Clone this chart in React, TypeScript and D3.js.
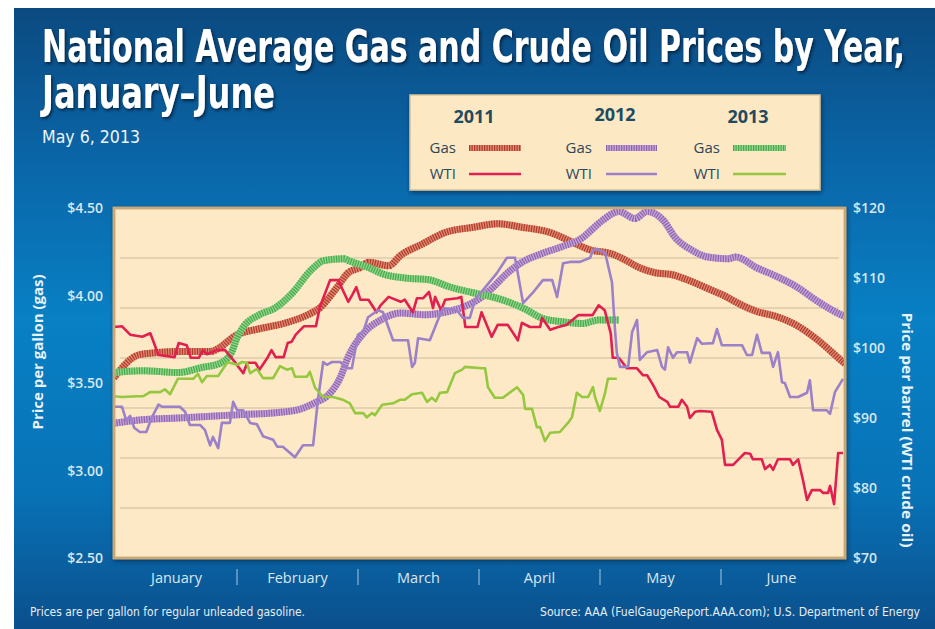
import React from 'react';
import * as d3 from 'd3';

const W = 935;
const H = 629;

const months = ['January', 'February', 'March', 'April', 'May', 'June'];
const gasTicks = [2.5, 3.0, 3.5, 4.0, 4.5];
const oilTicks = [70, 80, 90, 100, 110, 120];
const gridBands = 7;
const dayDomain: [number, number] = [0, 181];

// [day of Jan–Jun, $ per gallon]
const gas2011: [number, number][] = [
  [0, 3.53], [6, 3.66], [9, 3.67], [16, 3.68], [24, 3.68], [26, 3.7], [30, 3.77], [36, 3.81], [42, 3.84],
  [48, 3.89], [51, 3.93], [55, 4.04], [58, 4.13], [61, 4.16], [63, 4.19], [68, 4.17], [71, 4.23], [76, 4.29],
  [82, 4.36], [89, 4.39], [95, 4.41], [101, 4.39], [108, 4.36], [113, 4.31], [118, 4.26], [123, 4.24],
  [126, 4.21], [130, 4.16], [134, 4.13], [138, 4.12], [143, 4.08], [147, 4.04], [151, 4.0], [155, 3.95],
  [159, 3.91], [164, 3.88], [169, 3.83], [174, 3.75], [180, 3.63], [181, 3.61],
];
const gas2012: [number, number][] = [
  [0, 3.27], [7, 3.29], [16, 3.3], [24, 3.31], [32, 3.32], [40, 3.33], [46, 3.35], [50, 3.39], [53, 3.43],
  [56, 3.53], [58, 3.65], [62, 3.79], [66, 3.86], [71, 3.9], [77, 3.89], [83, 3.91], [86, 3.93], [91, 3.99],
  [94, 4.05], [97, 4.12], [101, 4.19], [106, 4.24], [111, 4.28], [116, 4.33], [118, 4.37], [121, 4.43],
  [125, 4.48], [129, 4.44], [132, 4.48], [136, 4.43], [139, 4.33], [143, 4.26], [147, 4.22], [152, 4.21],
  [154, 4.22], [159, 4.16], [164, 4.11], [169, 4.05], [174, 3.97], [180, 3.89], [181, 3.88],
];
const gas2013: [number, number][] = [
  [0, 3.56], [7, 3.57], [16, 3.56], [22, 3.59], [26, 3.61], [29, 3.67], [30.5, 3.76], [32, 3.82], [36, 3.89],
  [40, 3.93], [44, 4.01], [49, 4.15], [52, 4.2], [57, 4.21], [58, 4.2], [63, 4.16], [67, 4.12], [72, 4.1],
  [78, 4.09], [83, 4.05], [90, 4.01], [94, 3.99], [98, 3.96], [102, 3.92], [106, 3.87], [111, 3.85],
  [116, 3.84], [120, 3.86], [125, 3.86],
];

// [day of Jan–Jun, $ per barrel]
const wti2011: [number, number][] = [
  [0, 103.0], [2, 103.1], [4, 101.9], [7, 101.6], [9, 102.1], [11, 99.0], [15, 98.7], [16, 100.7], [18, 100.4],
  [19, 98.6], [21, 98.6], [22, 99.7], [23, 99.1], [25.5, 99.7], [27.5, 99.7], [29.5, 98.3], [32, 96.4],
  [33, 97.9], [35, 97.9], [36, 96.9], [38, 98.6], [39, 99.7], [40, 98.7], [42, 98.7], [43, 100.7],
  [44, 100.9], [45, 101.9], [47, 103.1], [50, 103.1], [51, 105.9], [53.5, 109.7], [55.5, 109.7], [58, 106.6],
  [59, 107.6], [60, 108.7], [61, 106.9], [63, 106.9], [65, 105.1], [66, 106.1], [68, 107.3], [71, 106.6],
  [72, 106.9], [74, 105.1], [75, 107.1], [76.5, 107.1], [78, 108.0], [79, 105.7], [79.5, 107.3], [81, 105.4],
  [82, 106.9], [85, 107.1], [86, 107.3], [87, 103.0], [90, 103.0], [91, 105.1], [93.5, 101.6], [95, 103.3],
  [97.5, 103.3], [100, 101.1], [101, 103.6], [103, 103.0], [105.5, 103.0], [106, 104.3], [108, 102.6],
  [110, 103.0], [112, 103.3], [115, 104.7], [118.5, 104.7], [120, 106.1], [121.5, 105.4], [123, 102.1],
  [123.5, 98.6], [125, 98.6], [127, 97.1], [129.5, 97.1], [131, 96.1], [132, 96.1], [133.5, 94.7], [135, 93.0],
  [137, 92.3], [137.7, 91.6], [139.7, 91.6], [140.6, 92.6], [141.9, 91.6], [142.6, 90.0], [143.9, 90.9],
  [145, 91.0], [148, 90.9], [149.3, 88.3], [150.5, 86.9], [151.3, 83.3], [153.3, 83.3], [155, 84.3],
  [156.2, 85.0], [157.5, 84.9], [158.2, 84.1], [160.4, 84.1], [161.2, 82.7], [162.4, 83.3], [163.2, 82.6],
  [164.4, 84.1], [167.4, 84.1], [168.1, 83.3], [169.4, 84.1], [170.6, 81.1], [171.6, 78.3], [172.8, 79.7],
  [174.8, 79.7], [175.6, 79.3], [176.8, 79.3], [177.3, 80.3], [178.3, 77.7], [179.3, 85.0], [180.5, 85.0],
];
const wti2012: [number, number][] = [
  [0, 91.6], [2, 91.6], [3, 89.7], [4, 90.3], [5, 88.6], [6.4, 88.0], [8, 88.0], [9.4, 90.1], [11, 91.9],
  [12, 91.6], [16.3, 91.6], [17.6, 90.9], [18.8, 89.0], [21.3, 89.0], [22.5, 88.3], [23.8, 86.1], [24.5, 87.3],
  [25.8, 85.7], [26.7, 89.3], [28.7, 89.3], [29.5, 92.3], [30.5, 91.1], [32, 91.1], [33.7, 89.3], [35.4, 89.1],
  [36.9, 87.4], [39.4, 86.9], [40.4, 85.9], [41.8, 85.9], [44.8, 84.4], [46.8, 86.1], [49.3, 86.1], [50.5, 92.6],
  [51.8, 98.0], [52.7, 97.6], [54, 98.0], [56, 98.0], [57.7, 97.1], [58.9, 97.1], [60.4, 101.9], [61.7, 102.3],
  [62.9, 104.4], [65.4, 105.4], [66.6, 105.1], [69.1, 101.1], [72.8, 101.1], [73.8, 97.3], [74.5, 97.9],
  [75.3, 101.4], [78.2, 101.1], [80.7, 104.7], [81.5, 105.7], [84.9, 105.4], [86.4, 104.3], [88.1, 104.3],
  [89.4, 106.9], [91.4, 108.3], [94.8, 110.7], [97.3, 112.9], [99.3, 112.9], [101.3, 106.4], [103.7, 107.9],
  [106.2, 109.7], [108.5, 109.7], [109.7, 107.3], [111.2, 112.1], [112.9, 112.3], [115.4, 112.3], [117.9, 112.9],
  [118.6, 114.0], [119.6, 114.1], [121.6, 113.6], [123.3, 109.4], [124, 103.0], [124.5, 99.3], [125.3, 97.3],
  [127.3, 97.3], [128.3, 102.3], [129.5, 104.0], [130.2, 98.3], [132, 99.4], [134.5, 99.7], [135.7, 97.3],
  [136.4, 96.9], [137.2, 100.1], [138.4, 98.6], [139.4, 99.4], [141.9, 99.4], [142.6, 97.9], [144.4, 101.4],
  [145.6, 100.6], [148.3, 100.7], [149.3, 102.7], [150.5, 100.4], [155.5, 100.4], [156.7, 99.0], [158, 99.0],
  [159.2, 101.9], [160.4, 99.3], [162.4, 99.3], [163.2, 97.3], [164.4, 99.4], [165.4, 95.1], [166.1, 95.0],
  [167.4, 93.0], [169.4, 93.0], [171.6, 93.6], [172.3, 95.4], [173.1, 91.1], [176.5, 91.1], [177.3, 90.6],
  [178.5, 93.7], [180.5, 95.6],
];
const wti2013: [number, number][] = [
  [0, 93.1], [2, 93.0], [5.7, 93.1], [7.2, 93.1], [8.9, 93.7], [11.4, 93.7], [12.6, 94.1], [13.9, 93.4],
  [15.8, 95.6], [19.6, 95.6], [20.8, 96.3], [21.8, 95.1], [23, 96.0], [25.8, 96.0], [28, 97.9], [28.7, 97.9],
  [30.5, 97.6], [31.7, 98.0], [32.9, 97.9], [33.7, 96.4], [35.4, 97.0], [36.9, 95.7], [39.4, 95.7], [41.1, 97.4],
  [42.8, 96.9], [44.1, 97.1], [44.8, 95.9], [47.8, 95.9], [48.5, 96.6], [49.8, 94.3], [51.8, 93.0], [54.2, 93.0],
  [56.7, 92.6], [58.4, 92.1], [59.7, 90.7], [61.7, 90.7], [62.6, 90.1], [63.9, 90.7], [64.6, 90.4], [66.4, 91.9],
  [69.1, 92.1], [70.8, 92.6], [72, 92.6], [73.8, 93.4], [76.3, 93.6], [77.5, 92.3], [78.7, 92.9], [79.7, 92.4],
  [80.7, 93.6], [82.5, 93.7], [84.4, 96.4], [86.2, 96.9], [86.9, 97.3], [91.1, 97.1], [91.9, 97.1], [92.6, 94.4],
  [94.3, 92.9], [96.3, 92.9], [99.8, 94.4], [101.3, 93.3], [101.8, 91.3], [103.5, 91.3], [104.7, 88.7],
  [105.5, 88.7], [106.7, 86.7], [108, 87.9], [110.4, 88.0], [112.4, 89.3], [113.4, 90.1], [114.6, 93.6],
  [115.9, 93.0], [117.4, 93.0], [118.6, 94.4], [119.1, 93.0], [120.3, 91.0], [121.6, 93.6], [122.3, 95.6],
  [124.5, 95.6],
];

const years = ['2011', '2012', '2013'];

const gasStyles = [
  { data: gas2011, base: '#de8a72', stripe: '#b33a2b' },
  { data: gas2012, base: '#c5a6d8', stripe: '#9062ad' },
  { data: gas2013, base: '#92d48c', stripe: '#47ab4a' },
];
const wtiStyles = [
  { data: wti2011, color: '#e2204f' },
  { data: wti2012, color: '#9c80c8' },
  { data: wti2013, color: '#95c83f' },
];

const PL = 114, PR = 845, PT = 208, PB = 558;

const narrow = "'Liberation Sans Narrow', 'DejaVu Sans Condensed', 'Arial Narrow', sans-serif";
const sans = "'Open Sans', 'Noto Sans', 'DejaVu Sans', sans-serif";

export default function App() {
  const x = d3.scaleLinear().domain(dayDomain).range([PL, PR]);
  const yGas = d3.scaleLinear().domain([2.5, 4.5]).range([PB, PT]);
  const yOil = d3.scaleLinear().domain([70, 120]).range([PB, PT]);
  const monthBand = d3.scaleBand<string>().domain(months).range([116, 842]);

  const gasLine = d3.line<[number, number]>().x(d => x(d[0])).y(d => yGas(d[1])).curve(d3.curveMonotoneX);
  const oilLine = d3.line<[number, number]>().x(d => x(d[0])).y(d => yOil(d[1])).curve(d3.curveLinear);

  const grid = d3.range(1, gridBands).map(k => yGas(2.5 + (k * 2) / gridBands));

  const legendCols = [
    { year: years[0], cx: 474, yy: 123, labelX: 456, sw: [469, 521] },
    { year: years[1], cx: 615, yy: 121, labelX: 592, sw: [606, 657] },
    { year: years[2], cx: 748, yy: 123, labelX: 720, sw: [733, 786] },
  ];

  return (
    <svg width={W} height={H} viewBox={`0 0 ${W} ${H}`} style={{ position: 'absolute', left: 0, top: 0, display: 'block' }}>
      <defs>
        <linearGradient id="bg" x1="0" y1="0" x2="0" y2="1">
          <stop offset="0" stopColor="#0b4a80" />
          <stop offset="0.25" stopColor="#0a66a8" />
          <stop offset="0.5" stopColor="#0880c4" />
          <stop offset="0.78" stopColor="#0872b6" />
          <stop offset="1" stopColor="#0b4f8c" />
        </linearGradient>
        <filter id="tshadow" x="-5%" y="-20%" width="110%" height="150%">
          <feDropShadow dx="1.5" dy="2" stdDeviation="1.5" floodColor="#021a33" floodOpacity="0.8" />
        </filter>
        <filter id="bshadow" x="-5%" y="-10%" width="110%" height="125%">
          <feDropShadow dx="1" dy="2" stdDeviation="2" floodColor="#01203d" floodOpacity="0.6" />
        </filter>
        <clipPath id="plotclip">
          <rect x={PL} y={PT} width={PR - PL} height={PB - PT} />
        </clipPath>
      </defs>

      <rect x={0} y={0} width={W} height={H} fill="#ffffff" />
      <rect x={14} y={8} width={W - 14} height={H - 8} fill="url(#bg)" />

      {/* Title */}
      <g filter="url(#tshadow)" fill="#ffffff" fontFamily={narrow} fontWeight={700}>
        <text x={42} y={62} fontSize={44} textLength={863} lengthAdjust="spacingAndGlyphs">
          National Average Gas and Crude Oil Prices by Year,
        </text>
        <text x={42} y={108} fontSize={44} textLength={233} lengthAdjust="spacingAndGlyphs">
          January–June
        </text>
      </g>
      <text x={42} y={143} fontSize={17} fill="#eef4f8" fontFamily={narrow} textLength={98} lengthAdjust="spacingAndGlyphs">
        May 6, 2013
      </text>

      {/* Legend */}
      <rect x={410} y={95} width={410} height={95} fill="#fde8c4" stroke="#d8c298" strokeWidth={1.5} filter="url(#bshadow)" />
      {legendCols.map((c, i) => (
        <g key={c.year}>
          <text x={c.cx} y={c.yy} textAnchor="middle" fontFamily={sans} fontWeight={700} fontSize={18} fill="#1f4b60">
            {c.year}
          </text>
          <text x={c.labelX} y={153} textAnchor="end" fontFamily={sans} fontSize={15} fill="#2b4656">Gas</text>
          <text x={c.labelX} y={179} textAnchor="end" fontFamily={sans} fontSize={15} fill="#2b4656">WTI</text>
          <line x1={c.sw[0]} x2={c.sw[1]} y1={148} y2={148} stroke={gasStyles[i].base} strokeWidth={6} />
          <line x1={c.sw[0]} x2={c.sw[1]} y1={148} y2={148} stroke={gasStyles[i].stripe} strokeWidth={6} strokeDasharray="1.2 1.3" />
          <line x1={c.sw[0]} x2={c.sw[1]} y1={174} y2={174} stroke={wtiStyles[i].color} strokeWidth={2.6} />
        </g>
      ))}

      {/* Plot area */}
      <rect x={PL} y={PT} width={PR - PL} height={PB - PT} fill="#fde9c6" stroke="#c9a878" strokeWidth={2.5} filter="url(#bshadow)" />
      {grid.map((gy, i) => (
        <line key={i} x1={PL + 6} x2={PR - 6} y1={gy} y2={gy} stroke="#dccaa8" strokeWidth={1.6} />
      ))}

      <g clipPath="url(#plotclip)" fill="none">
        {gasStyles.map((s, i) => (
          <g key={'g' + i}>
            <path d={gasLine(s.data) || ''} stroke={s.base} strokeWidth={7} />
            <path d={gasLine(s.data) || ''} stroke={s.stripe} strokeWidth={7} strokeDasharray="1.2 1.3" />
          </g>
        ))}
        {wtiStyles.map((s, i) => (
          <path key={'w' + i} d={oilLine(s.data) || ''} stroke={s.color} strokeWidth={2.6} strokeLinejoin="round" />
        ))}
      </g>
      <rect x={PL} y={PT} width={PR - PL} height={PB - PT} fill="none" stroke="#c9a878" strokeWidth={2.5} />

      {/* Left axis */}
      {gasTicks.map(v => (
        <text key={v} x={103} y={yGas(v) + 5} textAnchor="end" fontFamily={sans} fontWeight={600} fontSize={14} fill="#d9e6ef">
          {'$' + v.toFixed(2)}
        </text>
      ))}
      <text transform="translate(43,352) rotate(-90)" textAnchor="middle" fontFamily={sans} fontWeight={700} fontSize={14}
        fill="#eaf2f7" textLength={155} lengthAdjust="spacingAndGlyphs">
        Price per gallon (gas)
      </text>

      {/* Right axis */}
      {oilTicks.map(v => (
        <text key={v} x={853} y={yOil(v) + 5} textAnchor="start" fontFamily={sans} fontWeight={600} fontSize={14} fill="#d9e6ef">
          {'$' + v}
        </text>
      ))}
      <text transform="translate(902,430) rotate(90)" textAnchor="middle" fontFamily={sans} fontWeight={700} fontSize={14}
        fill="#eaf2f7" textLength={235} lengthAdjust="spacingAndGlyphs">
        Price per barrel (WTI crude oil)
      </text>

      {/* X axis months */}
      {months.map((m, i) => (
        <g key={m}>
          <text x={(monthBand(m) || 0) + monthBand.bandwidth() / 2} y={583} textAnchor="middle" fontFamily={sans} fontSize={14.5} fill="#dbe7f0">
            {m}
          </text>
          {i > 0 && (
            <line x1={monthBand(m) || 0} x2={monthBand(m) || 0} y1={569} y2={585} stroke="#a9c7dc" strokeWidth={1} />
          )}
        </g>
      ))}

      {/* Footer */}
      <text x={30} y={616} fontFamily={narrow} fontSize={13} fill="#e6eef5" textLength={275} lengthAdjust="spacingAndGlyphs">
        Prices are per gallon for regular unleaded gasoline.
      </text>
      <text x={920} y={616} textAnchor="end" fontFamily={narrow} fontSize={13} fill="#e6eef5" textLength={380} lengthAdjust="spacingAndGlyphs">
        Source: AAA (FuelGaugeReport.AAA.com); U.S. Department of Energy
      </text>
    </svg>
  );
}
